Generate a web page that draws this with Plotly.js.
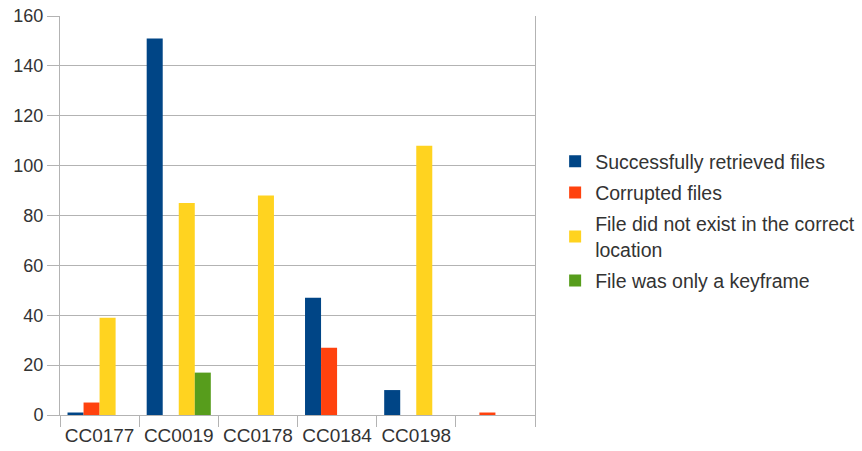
<!DOCTYPE html>
<html>
<head>
<meta charset="utf-8">
<script src="https://cdn.plot.ly/plotly-3.0.1.min.js"></script>
<style>html,body{margin:0;padding:0;background:#fff;}#chart{width:862px;height:451px;}</style>
</head>
<body>
<div id="chart"></div>
<script>
const categories = ["CC0177", "CC0019", "CC0178", "CC0184", "CC0198", " "];
const seriesNames = ["Successfully retrieved files", "Corrupted files", "File did not exist in the correct<br>location", "File was only a keyframe"];
const retrieved = [1, 151, 0, 47, 10, 0];
const corrupted = [5, 0, 0, 27, 0, 1];
const notExist = [39, 85, 88, 0, 108, 0];
const keyframe = [0, 17, 0, 0, 0, 0];
const colors = ["#004586", "#ff420e", "#ffd320", "#579d1c"];
const yTicks = [0, 20, 40, 60, 80, 100, 120, 140, 160];

const values = [retrieved, corrupted, notExist, keyframe];
const traces = values.map((v, i) => ({
  type: "bar",
  x: categories,
  y: v,
  name: seriesNames[i],
  legendgroup: "g" + i,
  marker: {color: colors[i], line: {width: 0}},
  hoverinfo: "x+y+name"
}));

const layout = {
  width: 862, height: 451,
  margin: {l: 60, r: 327, t: 16, b: 36},
  paper_bgcolor: "#fff", plot_bgcolor: "#fff",
  barmode: "group", bargap: 0.19, bargroupgap: 0,
  font: {family: "Liberation Sans, Arial, sans-serif", color: "#333"},
  xaxis: {
    type: "category",
    showgrid: false,
    showline: true, linecolor: "#b3b3b3", linewidth: 1,
    ticks: "outside", tickson: "boundaries", ticklen: 11, tickcolor: "#b3b3b3", tickwidth: 1,
    tickfont: {size: 19, color: "#333"},
    tickangle: 0,
    ticklabelstandoff: 3,
    fixedrange: true
  },
  yaxis: {
    range: [0, 160],
    tickvals: yTicks,
    ticktext: yTicks.map(String),
    showgrid: true, gridcolor: "#b3b3b3", gridwidth: 1,
    zeroline: false,
    showline: true, linecolor: "#b3b3b3", linewidth: 1, mirror: true,
    ticks: "outside", ticklen: 12, tickcolor: "#b3b3b3", tickwidth: 1,
    tickfont: {size: 18, color: "#333"},
    fixedrange: true
  },
  showlegend: true,
  legend: {
    xref: "container", yref: "container",
    x: 0.644, xanchor: "left", y: 0.51, yanchor: "middle",
    font: {size: 19.5, color: "#333"},
    traceorder: "grouped",
    tracegroupgap: 3,
    bgcolor: "rgba(0,0,0,0)"
  }
};

Plotly.newPlot("chart", traces, layout, {displayModeBar: false, staticPlot: true});
</script>
</body>
</html>
